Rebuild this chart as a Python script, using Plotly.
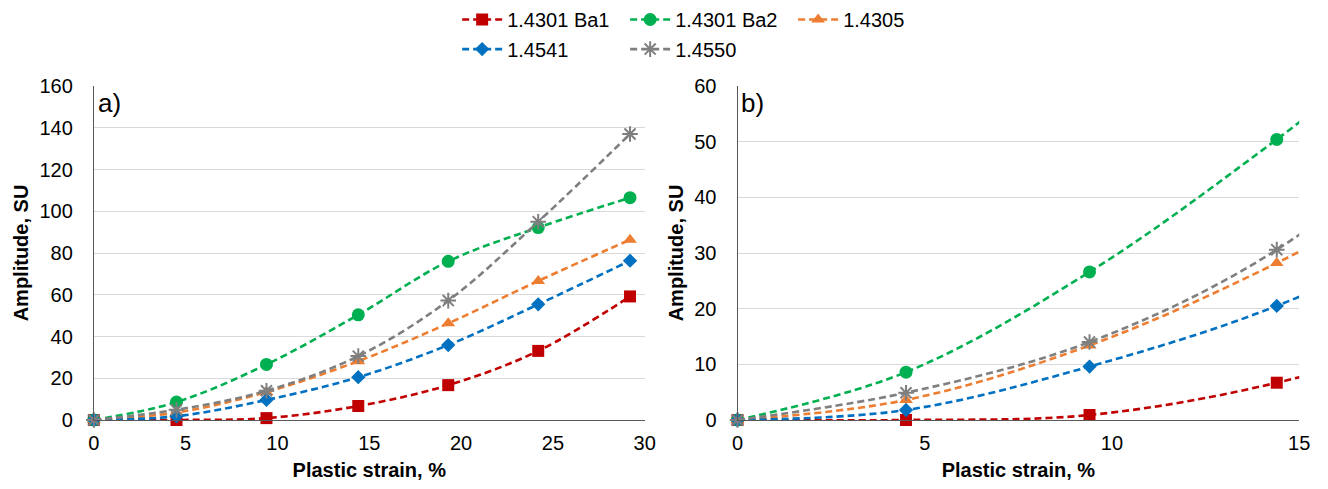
import plotly.graph_objects as go

strain = [0, 4.5, 9.4, 14.4, 19.3, 24.2, 29.2]
names = ["1.4301 Ba1", "1.4301 Ba2", "1.4305", "1.4541", "1.4550"]
ba1 = [0, 0, 0.9, 6.7, 16.7, 33.1, 59.2]
ba2 = [0, 8.6, 26.6, 50.4, 76.0, 92.2, 106.5]
s4305 = [0, 3.6, 13.4, 28.2, 46.3, 66.6, 86.4]
s4541 = [0, 1.8, 9.6, 20.5, 35.9, 55.4, 76.3]
s4550 = [0, 4.9, 14.0, 30.6, 57.2, 95.0, 137.0]
series = [ba1, ba2, s4305, s4541, s4550]
colors = ["#C00000", "#00B050", "#ED7D31", "#0070C0", "#7F7F7F"]
symbols = ["square", "circle", "triangle-up", "diamond", "asterisk-open"]
msizes = [12, 13, 12, 11, 13]
legends = ["legend", "legend", "legend", "legend2", "legend2"]

FONT = "Liberation Sans, Arial, sans-serif"
fig = go.Figure()
for panel, (xa, ya) in enumerate([("x", "y"), ("x2", "y2")]):
    for i, (nm, vals) in enumerate(zip(names, series)):
        mk = dict(symbol=symbols[i], size=msizes[i], color=colors[i])
        if symbols[i] == "asterisk-open":
            mk["line"] = dict(color=colors[i], width=2)
        fig.add_trace(go.Scatter(
            x=strain, y=vals, name=nm, mode="lines+markers",
            line=dict(color=colors[i], width=2.6, dash="7px,4px", shape="spline"),
            marker=mk, xaxis=xa, yaxis=ya, cliponaxis=False,
            showlegend=(panel == 0), legend=legends[i],
        ))

W, H = 1328, 489
axis_common = dict(showline=True, linecolor="#595959", linewidth=1,
                   ticks="", tickfont=dict(size=20, color="#000000", family=FONT),
                   zeroline=False)
title_font = dict(size=20, family=FONT, color="#000000")
fig.update_layout(
    width=W, height=H, margin=dict(l=0, r=0, t=85, b=69),
    paper_bgcolor="white", plot_bgcolor="white",
    font=dict(family=FONT, size=20, color="#000000"),
    xaxis=dict(domain=[89 / W, 647 / W], range=[0, 30], dtick=5, showgrid=False,
               ticklabelstandoff=5,
               title=dict(text="<b>Plastic strain, %</b>", standoff=9, font=title_font),
               **axis_common),
    yaxis=dict(range=[0, 160], dtick=20, showgrid=True, gridcolor="#D9D9D9", gridwidth=1,
               ticklabelstandoff=16,
               title=dict(text="<b>Amplitude, SU</b>", standoff=5, font=title_font),
               **axis_common),
    xaxis2=dict(domain=[741 / W, 1310 / W], range=[0, 15], dtick=5, showgrid=False,
                anchor="y2", ticklabelstandoff=5,
                title=dict(text="<b>Plastic strain, %</b>", standoff=9, font=title_font),
                **axis_common),
    yaxis2=dict(range=[0, 60], dtick=10, showgrid=True, gridcolor="#D9D9D9", gridwidth=1,
                anchor="x2", ticklabelstandoff=16,
                title=dict(text="<b>Amplitude, SU</b>", standoff=5, font=title_font),
                **axis_common),
    legend=dict(orientation="h", x=457 / W, xanchor="left", y=(420 - 18) / 335,
                yanchor="middle", entrywidth=113, entrywidthmode="pixels",
                itemwidth=40, font=dict(size=20), bgcolor="rgba(0,0,0,0)"),
    legend2=dict(orientation="h", x=457 / W, xanchor="left", y=(420 - 48) / 335,
                 yanchor="middle", entrywidth=113, entrywidthmode="pixels",
                 itemwidth=40, font=dict(size=20), bgcolor="rgba(0,0,0,0)"),
    annotations=[
        dict(text="a)", xref="x domain", yref="y domain", x=0.003, y=0.95,
             xanchor="left", yanchor="middle", showarrow=False, font=dict(size=26)),
        dict(text="b)", xref="x2 domain", yref="y2 domain", x=0.003, y=0.95,
             xanchor="left", yanchor="middle", showarrow=False, font=dict(size=26)),
    ],
)
fig.write_html("out.html")
